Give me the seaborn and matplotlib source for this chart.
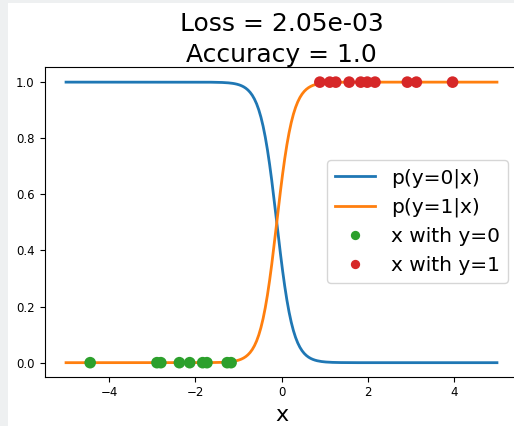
import matplotlib
matplotlib.use('Agg')
import seaborn as sns

import matplotlib.pyplot as plt
from matplotlib.patches import Rectangle

import pandas as pd
import numpy as np

# data
x_class0 = [-4.44, -2.89, -2.80, -2.37, -2.13, -1.83, -1.73, -1.26, -1.17]
x_class1 = [0.89, 1.12, 1.26, 1.57, 1.84, 1.99, 2.17, 2.92, 3.13, 3.97]
# fitted logistic model p(y=1|x) = sigmoid(w * (x - b))
w = 5.3
b = -0.11
x_grid = np.linspace(-5, 5, 200)
loss = 2.05e-3
accuracy = 1.0

p1 = 1 / (1 + np.exp(-w * (x_grid - b)))
curves = pd.DataFrame({
    "x": np.concatenate([x_grid, x_grid]),
    "p": np.concatenate([1 - p1, p1]),
    "label": ["p(y=0|x)"] * len(x_grid) + ["p(y=1|x)"] * len(x_grid),
})
points = pd.DataFrame({
    "x": x_class0 + x_class1,
    "y": [0.0] * len(x_class0) + [1.0] * len(x_class1),
    "label": ["x with y=0"] * len(x_class0) + ["x with y=1"] * len(x_class1),
})

fig = plt.figure(figsize=(5.14, 4.26), dpi=100)
fig.patch.set_facecolor('#eef0f1')
fig.patches.append(Rectangle((8 / 514, 0), 1, 1 - 3 / 426, transform=fig.transFigure,
                             facecolor='white', edgecolor='none', zorder=-1))
# right spine falls just outside the picture, as in the cropped reference
ax = fig.add_axes([44.5 / 514, 49.3 / 426, 474 / 514, 310 / 426])

sns.lineplot(data=curves, x="x", y="p", hue="label", palette=["#1f77b4", "#ff7f0e"],
             linewidth=2, ax=ax, legend=True)
sns.scatterplot(data=points, x="x", y="y", hue="label", palette=["#2ca02c", "#d62728"],
                s=70, edgecolor='none', ax=ax, zorder=3, legend=True)

ax.set_xlim(-5.5, 5.5)
ax.set_ylim(-0.05, 1.055)
ax.set_xticks([-4, -2, 0, 2, 4])
ax.set_yticks([0.0, 0.2, 0.4, 0.6, 0.8, 1.0])
ax.set_yticklabels([f"{v:.1f}" for v in [0.0, 0.2, 0.4, 0.6, 0.8, 1.0]])
ax.tick_params(labelsize=8.5)
ax.spines['right'].set_visible(False)
ax.set_xlabel("x", fontsize=16)
ax.set_ylabel("")
ax.set_title(f"Loss = {loss:.2e}\nAccuracy = {accuracy}", fontsize=18, pad=0.5,
             linespacing=1.35)
ax.legend(loc='center right', fontsize=14.5, markerscale=0.8)

fig.savefig("out.png", dpi=100, facecolor=fig.get_facecolor())
